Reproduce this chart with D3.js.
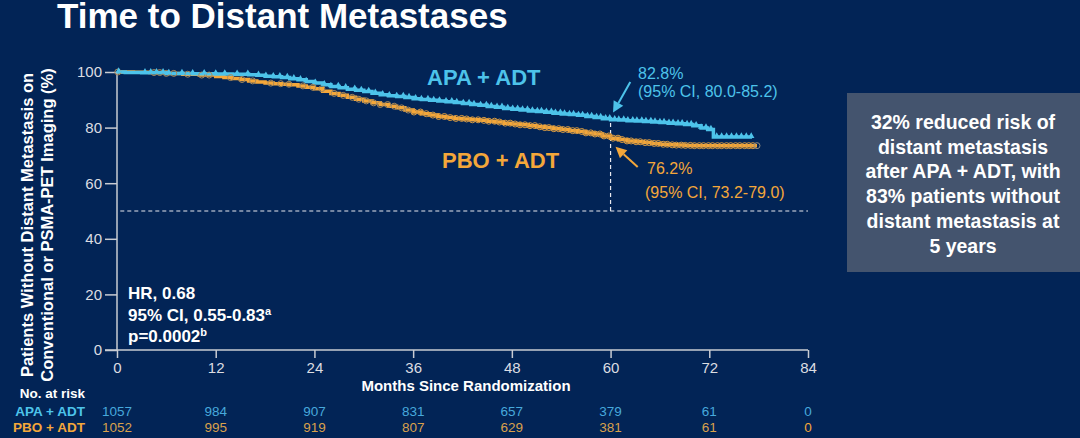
<!DOCTYPE html>
<html>
<head>
<meta charset="utf-8">
<script src="https://cdn.jsdelivr.net/npm/d3@7"></script>
<style>
  html, body { margin: 0; padding: 0; background: #022456; }
  svg { display: block; font-family: "Liberation Sans", Arial, sans-serif; }
</style>
</head>
<body>
<svg id="chart" width="1080" height="438"></svg>
<script>
// ---- data ----
const monthTicks = [0, 12, 24, 36, 48, 60, 72, 84];
const pctTicks = [0, 20, 40, 60, 80, 100];

// Kaplan-Meier steps [month, % free of distant metastasis]
const apaSteps = [
  [0, 100], [1, 99.8], [3, 99.7], [6, 99.5], [9, 99.4], [12, 99.3], [14, 99.2], [16, 99.0],
  [17, 98.8], [18, 98.5], [19, 98.3], [20, 98.0], [21, 97.6], [22, 97.2], [23, 96.6],
  [24, 96.0], [25, 95.4], [26, 94.8], [27, 94.3], [28, 93.8], [29, 93.4], [30, 93.0],
  [31, 92.4], [32, 91.8], [33, 91.5], [34, 91.2], [35, 90.8], [36, 90.4], [37, 90.1],
  [38, 89.8], [39, 89.6], [40, 89.3], [41, 89.0], [42, 88.7], [43, 88.3], [44, 88.0],
  [45, 87.6], [46, 87.3], [47, 86.9], [48, 86.6], [49, 86.3], [50, 86.0], [51, 85.8],
  [52, 85.5], [53, 85.2], [54, 84.9], [55, 84.7], [56, 84.4], [57, 84.0], [58, 83.6],
  [59, 83.2], [60, 82.8], [61, 82.7], [62, 82.5], [63, 82.4], [64, 82.2], [65, 82.0],
  [66, 81.8], [67, 81.6], [68, 81.4], [69, 81.1], [70, 80.7], [71, 79.9], [71.8, 79.3],
  [72.5, 76.6], [77.2, 76.6]
];
const pboSteps = [
  [0, 100], [2, 99.9], [4, 99.8], [6, 99.5], [8, 99.2], [10, 98.9], [12, 98.4], [13, 98.0],
  [14, 97.7], [15, 97.3], [16, 96.8], [17, 96.4], [18, 96.0], [19, 95.8], [20, 95.6],
  [21, 95.4], [22, 95.0], [23, 94.5], [24, 94.0], [25, 93.1], [26, 92.3], [27, 91.6],
  [28, 90.9], [29, 90.2], [30, 89.6], [31, 88.9], [32, 88.3], [33, 87.7], [34, 87.1],
  [35, 86.3], [36, 85.6], [37, 85.0], [38, 84.5], [39, 84.0], [40, 83.6], [41, 83.3],
  [42, 83.1], [43, 82.8], [44, 82.6], [45, 82.3], [46, 82.0], [47, 81.6], [48, 81.3],
  [49, 81.0], [50, 80.7], [51, 80.3], [52, 80.0], [53, 79.6], [54, 79.3], [55, 78.9],
  [56, 78.6], [57, 78.1], [58, 77.7], [59, 77.0], [60, 76.2], [61, 75.7], [62, 75.2],
  [63, 74.9], [64, 74.6], [65, 74.3], [66, 74.0], [67, 73.8], [68, 73.7], [69, 73.6],
  [70, 73.5], [77.8, 73.5]
];

// censoring times (months)
const apaCensor = [
  0.2, 3.4, 4.1, 4.8, 5.6, 6.3, 7.9, 9.2, 10.6, 12.0, 13.1, 14.6, 15.9, 17.2, 18.1,
  19.0, 19.8, 20.7, 21.5, 22.3, 23.0, 24.1, 25.2, 26.0, 26.9, 27.8, 28.9, 29.7, 30.6,
  31.4, 32.3, 33.1, 34.0, 34.8, 35.5, 36.3, 37.0, 37.8, 38.5, 39.2, 40.0, 40.7, 41.3,
  42.1, 42.8, 43.4, 44.2, 44.9, 45.5, 46.2, 46.8, 47.5, 48.1, 48.7, 49.3, 49.9, 50.5,
  51.1, 51.6, 52.2, 52.8, 53.3, 53.9, 54.4, 55.0, 55.5, 56.1, 56.6, 57.2, 57.7, 58.3,
  58.8, 59.4, 59.9, 60.5, 61.0, 61.6, 62.1, 62.7, 63.2, 63.8, 64.3, 64.9, 65.4, 66.0,
  66.5, 67.1, 67.6, 68.2, 68.7, 69.3, 69.8, 70.4, 71.0, 71.6, 72.2, 72.9, 73.5, 74.1,
  74.7, 75.3, 75.9, 76.5, 77.1
];
const pboCensor = [
  0.1, 4.5, 5.2, 6.0, 6.9, 8.6, 10.3, 11.2, 13.8, 15.2, 16.5, 18.7, 19.9, 20.9, 22.6,
  23.8, 24.9, 26.4, 27.5, 28.6, 29.4, 30.3, 31.2, 32.0, 32.9, 33.7, 34.6, 35.4, 36.1,
  36.9, 37.6, 38.4, 39.1, 39.8, 40.5, 41.2, 41.9, 42.5, 43.2, 43.9, 44.6, 45.2, 45.9,
  46.5, 47.2, 47.8, 48.4, 49.0, 49.6, 50.2, 50.8, 51.4, 52.0, 52.5, 53.1, 53.7, 54.2,
  54.8, 55.4, 55.9, 56.5, 57.0, 57.6, 58.1, 58.7, 59.2, 59.8, 60.3, 60.9, 61.4, 62.0,
  62.5, 63.1, 63.6, 64.2, 64.7, 65.3, 65.8, 66.4, 66.9, 67.5, 68.0, 68.6, 69.1, 69.7,
  70.2, 70.8, 71.3, 71.9, 72.4, 73.0, 73.5, 74.1, 74.6, 75.2, 75.7, 76.3, 76.8, 77.3,
  77.8
];

const apaAtRisk = [1057, 984, 907, 831, 657, 379, 61, 0];
const pboAtRisk = [1052, 995, 919, 807, 629, 381, 61, 0];

const boxLines = [
  "32% reduced risk of",
  "distant metastasis",
  "after APA + ADT, with",
  "83% patients without",
  "distant metastasis at",
  "5 years"
];

// ---- colours ----
const APA = "#4dc3ea";
const PBO = "#f4a73a";
const APA_NUM = "#47a9dc";
const PBO_NUM = "#d9a14c";
const AXIS = "#c9ccd3";

const svg = d3.select("#chart");

//title
svg.append("text")
  .attr("x", 57).attr("y", 28)
  .attr("fill", "#fff").attr("font-size", 35).attr("font-weight", "bold")
  .text("Time to Distant Metastases");

//scales
const x = d3.scaleLinear().domain([0, 84]).range([117, 808]);
const y = d3.scaleLinear().domain([0, 100]).range([350, 72]);

//axes
const gy = svg.append("g")
  .attr("transform", `translate(${x(0)},0)`)
  .call(d3.axisLeft(y).tickValues(pctTicks).tickSize(12).tickSizeOuter(0).tickPadding(3));
const gx = svg.append("g")
  .attr("transform", `translate(0,${y(0)})`)
  .call(d3.axisBottom(x).tickValues(monthTicks).tickSize(8).tickSizeOuter(0).tickPadding(4));

[gy, gx].forEach((g) => {
  g.selectAll("path, line").attr("stroke", AXIS).attr("stroke-width", 1.5);
  g.selectAll("text").attr("fill", "#dcdde2").attr("font-size", 15)
    .attr("font-family", '"Liberation Sans", Arial, sans-serif');
});
gy.select(".domain").attr("d", `M0,${y(100)}V${y(0)}`);
gx.select(".domain").attr("d", `M${x(0) - 12},0H${x(84)}`);

//axis titles
const ylab = svg.append("text")
  .attr("transform", `translate(33,225) rotate(-90)`)
  .attr("text-anchor", "middle").attr("fill", "#fff")
  .attr("font-size", 16.5).attr("font-weight", "bold");
ylab.append("tspan").attr("x", 0).attr("dy", 0).text("Patients Without Distant Metastasis on");
ylab.append("tspan").attr("x", 0).attr("dy", 20).text("Conventional or PSMA-PET Imaging (%)");

svg.append("text")
  .attr("x", 466).attr("y", 391)
  .attr("text-anchor", "middle").attr("fill", "#fff")
  .attr("font-size", 15).attr("font-weight", "bold")
  .text("Months Since Randomization");

//reference lines
svg.append("line")
  .attr("x1", x(0.4)).attr("x2", x(84))
  .attr("y1", y(50)).attr("y2", y(50))
  .attr("stroke", "#e8e8ee").attr("stroke-width", 1.2).attr("stroke-dasharray", "4,3");
svg.append("line")
  .attr("x1", x(60)).attr("x2", x(60))
  .attr("y1", y(50)).attr("y2", y(82.8))
  .attr("stroke", "#e8e8ee").attr("stroke-width", 1.2).attr("stroke-dasharray", "4,3");

//curves
const step = d3.line().x((d) => x(d[0])).y((d) => y(d[1])).curve(d3.curveStepAfter);

function survAt(steps, t) {
  let v = steps[0][1];
  for (const s of steps) if (s[0] <= t) v = s[1];
  return v;
}

svg.append("path").datum(pboSteps)
  .attr("d", step).attr("fill", "none").attr("stroke", PBO).attr("stroke-width", 3.5);
svg.append("path").datum(apaSteps)
  .attr("d", step).attr("fill", "none").attr("stroke", APA).attr("stroke-width", 3.5);

//censor marks - pbo circles
svg.append("g").selectAll("circle")
  .data(pboCensor)
  .join("circle")
  .attr("cx", (d) => x(d))
  .attr("cy", (d) => y(survAt(pboSteps, d)))
  .attr("r", 3)
  .attr("fill", "none")
  .attr("stroke", (d) => (d > 77.5 ? "#8f8a80" : d < 36 ? "#a88a5c" : "#d89b43"))
  .attr("stroke-width", 1);

//censor marks - apa triangles
const tri = d3.symbol().type(d3.symbolTriangle).size(18);
svg.append("g").selectAll("path")
  .data(apaCensor)
  .join("path")
  .attr("d", tri)
  .attr("transform", (d) => `translate(${x(d)},${y(survAt(apaSteps, d)) - 1})`)
  .attr("fill", APA);

//series labels
svg.append("text").attr("x", 427).attr("y", 85)
  .attr("fill", APA).attr("font-size", 22).attr("font-weight", "bold").text("APA + ADT");
svg.append("text").attr("x", 442).attr("y", 168)
  .attr("fill", PBO).attr("font-size", 22).attr("font-weight", "bold").text("PBO + ADT");

//annotation arrows
function arrow(x1, y1, x2, y2, color) {
  const ang = Math.atan2(y2 - y1, x2 - x1);
  const len = 11, half = 5.5;
  const bx = x2 - len * Math.cos(ang), by = y2 - len * Math.sin(ang);
  svg.append("line")
    .attr("x1", x1).attr("y1", y1).attr("x2", bx).attr("y2", by)
    .attr("stroke", color).attr("stroke-width", 2);
  svg.append("path")
    .attr("d", `M${x2},${y2}L${bx + half * Math.sin(ang)},${by - half * Math.cos(ang)}L${bx - half * Math.sin(ang)},${by + half * Math.cos(ang)}Z`)
    .attr("fill", color);
}
arrow(x(62.4), y(96.4), x(60.3), y(85.4), APA);
arrow(x(63.3), y(65.8), x(60.6), y(73.1), PBO);

svg.append("text").attr("x", 638).attr("y", 79)
  .attr("fill", APA).attr("font-size", 16).text("82.8%");
svg.append("text").attr("x", 638).attr("y", 97)
  .attr("fill", APA).attr("font-size", 16).text("(95% CI, 80.0-85.2)");
svg.append("text").attr("x", 647).attr("y", 174)
  .attr("fill", PBO).attr("font-size", 16).text("76.2%");
svg.append("text").attr("x", 645).attr("y", 198)
  .attr("fill", PBO).attr("font-size", 16).text("(95% CI, 73.2-79.0)");

//HR stats
const hr = svg.append("g").attr("fill", "#fff").attr("font-size", 17).attr("font-weight", "bold");
hr.append("text").attr("x", 128).attr("y", 299).text("HR, 0.68");
const ci = hr.append("text").attr("x", 128).attr("y", 321);
ci.append("tspan").text("95% CI, 0.55-0.83");
ci.append("tspan").attr("font-size", 11).attr("dy", -6).text("a");
const pv = hr.append("text").attr("x", 128).attr("y", 342);
pv.append("tspan").text("p=0.0002");
pv.append("tspan").attr("font-size", 11).attr("dy", -6).text("b");

//number at risk
svg.append("text").attr("x", 85).attr("y", 398).attr("text-anchor", "end")
  .attr("fill", "#fff").attr("font-size", 13.5).attr("font-weight", "bold").text("No. at risk");
svg.append("text").attr("x", 85).attr("y", 416).attr("text-anchor", "end")
  .attr("fill", APA).attr("font-size", 13.5).attr("font-weight", "bold").text("APA + ADT");
svg.append("text").attr("x", 85).attr("y", 432).attr("text-anchor", "end")
  .attr("fill", PBO).attr("font-size", 13.5).attr("font-weight", "bold").text("PBO + ADT");

svg.append("g").selectAll("text")
  .data(apaAtRisk)
  .join("text")
  .attr("x", (d, i) => x(monthTicks[i])).attr("y", 416)
  .attr("text-anchor", "middle").attr("fill", APA_NUM).attr("font-size", 13.5)
  .text((d) => d);
svg.append("g").selectAll("text")
  .data(pboAtRisk)
  .join("text")
  .attr("x", (d, i) => x(monthTicks[i])).attr("y", 432)
  .attr("text-anchor", "middle")
  .attr("fill", (d, i) => (i === pboAtRisk.length - 1 ? PBO : PBO_NUM)).attr("font-size", 13.5)
  .text((d) => d);

//summary box
svg.append("rect").attr("x", 847).attr("y", 93).attr("width", 240).attr("height", 179)
  .attr("fill", "#44546e");
svg.append("g").selectAll("text")
  .data(boxLines)
  .join("text")
  .attr("x", 963).attr("y", (d, i) => 129 + i * 24.7)
  .attr("text-anchor", "middle").attr("fill", "#fff")
  .attr("font-size", 19.5).attr("font-weight", "bold")
  .text((d) => d);
</script>
</body>
</html>
